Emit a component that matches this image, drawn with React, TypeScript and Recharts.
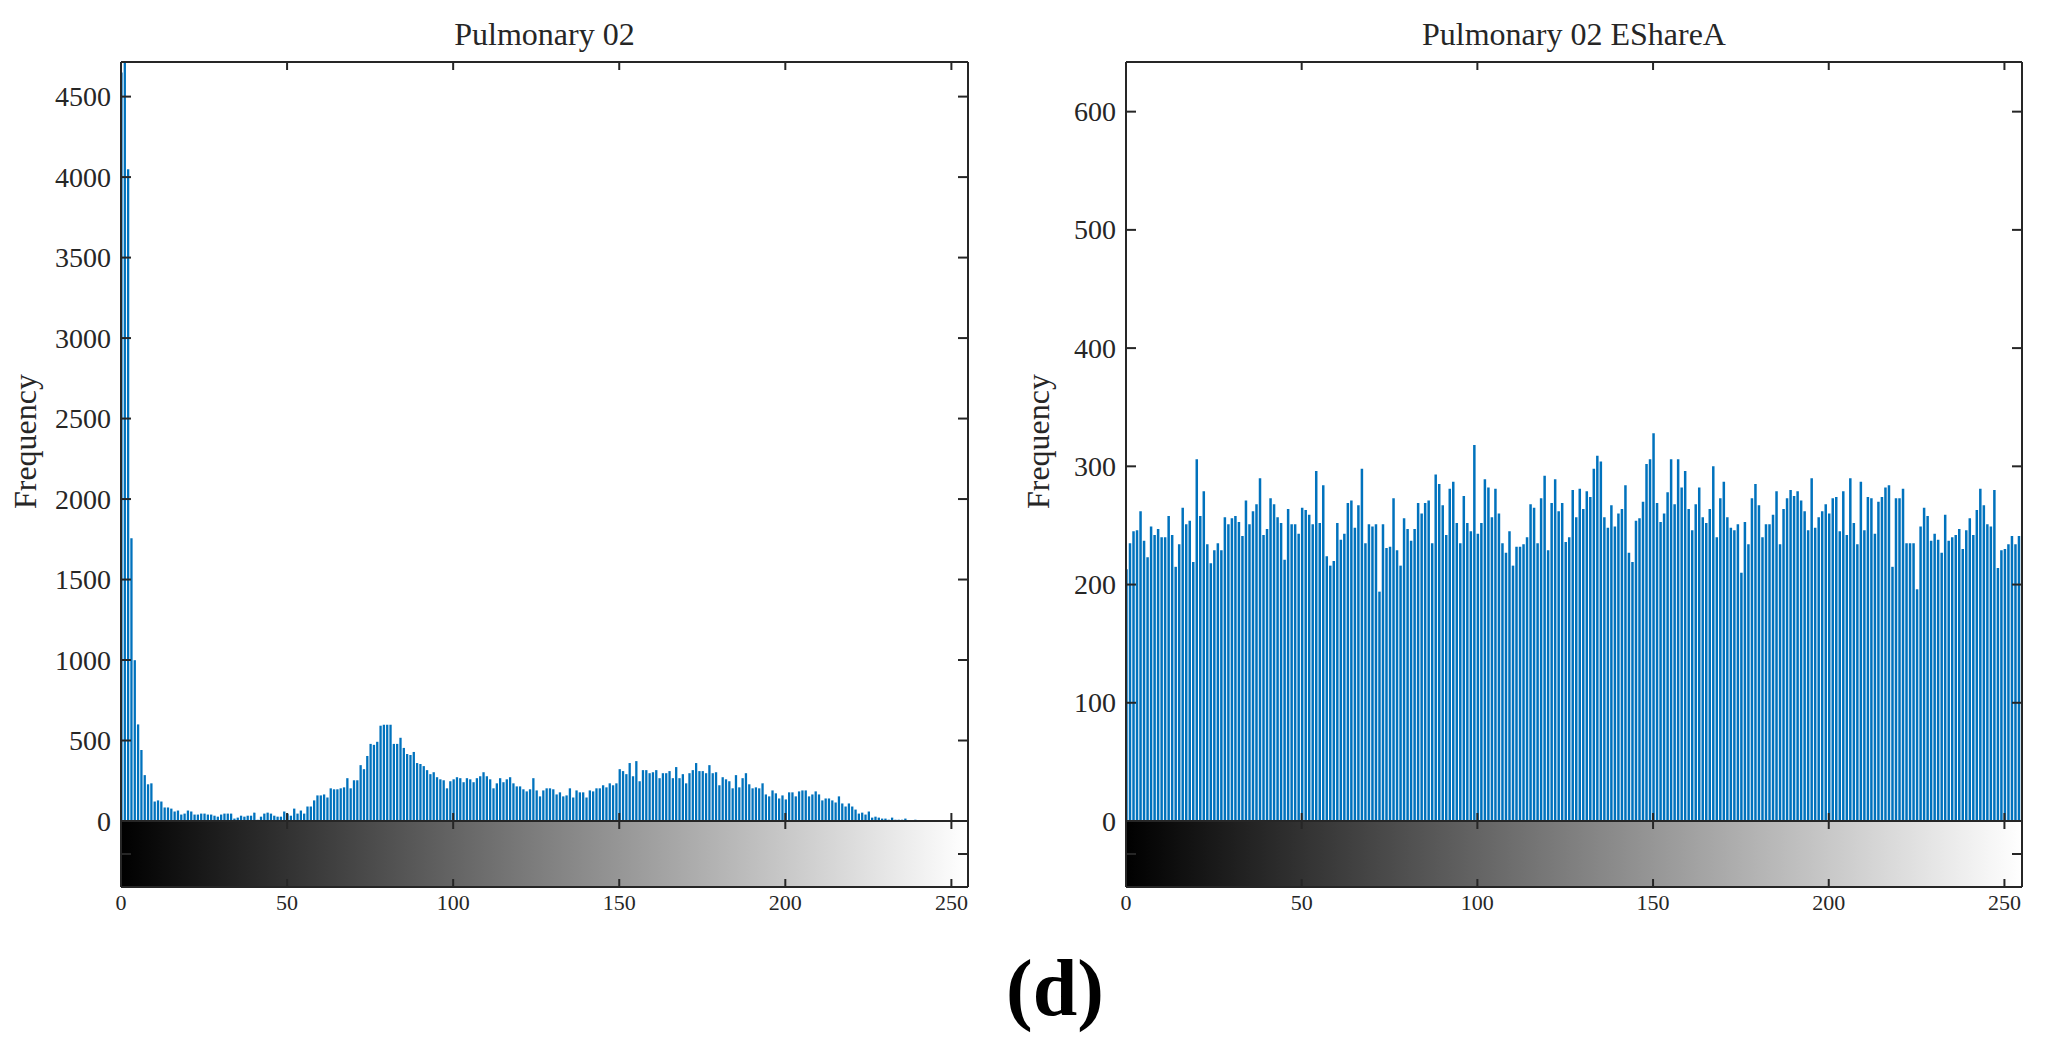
import React from 'react';
import { BarChart, Bar, XAxis, YAxis, ReferenceArea, Label } from 'recharts';

// histogram bins = gray levels of an 8-bit image
const grayLevels = Array.from({ length: 256 }, (_, i) => i);

const pulmonaryCounts = [
  4650, 4715, 4049, 1756, 999, 600, 441, 285, 228, 234, 121, 128, 121, 84, 84, 77,
  59, 65, 40, 46, 65, 59, 40, 40, 46, 46, 40, 40, 33, 27, 40, 46,
  46, 46, 15, 21, 33, 27, 33, 33, 52, 8, 27, 46, 52, 46, 33, 27,
  27, 59, 45, 33, 77, 46, 65, 46, 90, 90, 128, 159, 159, 165, 146, 203,
  197, 197, 203, 209, 266, 203, 253, 253, 347, 322, 404, 479, 473, 492, 592, 598,
  598, 598, 479, 479, 517, 454, 416, 410, 429, 360, 354, 341, 316, 291, 303, 272,
  259, 253, 203, 247, 259, 272, 266, 241, 266, 259, 241, 266, 278, 303, 278, 259,
  203, 234, 266, 241, 259, 272, 234, 215, 215, 197, 184, 197, 266, 190, 153, 190,
  203, 203, 197, 165, 178, 153, 159, 203, 146, 190, 178, 178, 146, 190, 184, 203,
  203, 222, 209, 234, 222, 234, 322, 310, 291, 360, 278, 372, 247, 316, 316, 297,
  303, 316, 266, 297, 297, 310, 266, 335, 266, 291, 234, 297, 316, 360, 310, 310,
  297, 347, 297, 303, 222, 272, 259, 247, 203, 285, 209, 266, 297, 228, 203, 209,
  203, 234, 165, 153, 190, 172, 140, 159, 134, 178, 178, 153, 184, 190, 190, 153,
  165, 184, 165, 128, 140, 140, 128, 115, 153, 109, 90, 109, 90, 71, 46, 52,
  40, 59, 21, 27, 21, 15, 15, 8, 21, 8, 8, 8, 15, 0, 0, 8,
  0, 0, 0, 0, 0, 0, 0, 0, 0, 0, 0, 0, 0, 0, 0, 0,
];

const eshareCounts = [
  213, 235, 245, 246, 262, 237, 223, 249, 242, 247, 240, 240, 258, 242, 215, 234,
  265, 251, 254, 219, 306, 258, 279, 234, 218, 229, 235, 229, 257, 251, 256, 258,
  253, 241, 271, 251, 262, 268, 290, 242, 247, 273, 268, 257, 252, 221, 264, 251,
  251, 243, 265, 263, 259, 251, 296, 252, 284, 224, 216, 220, 252, 238, 243, 269,
  271, 248, 267, 298, 235, 251, 249, 251, 194, 251, 231, 232, 273, 229, 216, 256,
  247, 237, 247, 269, 260, 269, 271, 235, 293, 285, 267, 242, 281, 287, 252, 235,
  275, 252, 245, 318, 243, 252, 289, 282, 257, 281, 260, 235, 227, 245, 216, 232,
  232, 234, 240, 268, 265, 235, 273, 292, 229, 269, 289, 262, 269, 236, 240, 280,
  257, 281, 264, 279, 274, 298, 309, 304, 257, 248, 267, 249, 260, 264, 284, 227,
  219, 254, 256, 270, 302, 306, 328, 269, 253, 260, 278, 306, 268, 306, 282, 296,
  264, 246, 268, 282, 257, 252, 264, 300, 240, 273, 287, 257, 248, 246, 251, 210,
  253, 234, 273, 285, 267, 240, 251, 251, 259, 279, 234, 264, 273, 280, 275, 279,
  271, 262, 246, 290, 248, 257, 262, 268, 260, 273, 274, 245, 279, 242, 290, 252,
  234, 287, 246, 274, 273, 243, 270, 274, 282, 284, 215, 273, 273, 281, 235, 235,
  235, 196, 249, 265, 258, 237, 243, 238, 227, 259, 237, 240, 242, 247, 230, 246,
  256, 242, 263, 281, 267, 251, 249, 280, 214, 229, 230, 234, 241, 234, 241, 226,
];

const xTicks = [0, 50, 100, 150, 200, 250];
const pulmonaryYTicks = [0, 500, 1000, 1500, 2000, 2500, 3000, 3500, 4000, 4500];
const eshareYTicks = [0, 100, 200, 300, 400, 500, 600];
const pulmonaryYMax = 4715;
const eshareYMax = 642;

const INK = '#262626';
const BAR_COLOR = '#0072BD';
const SERIF = '"Liberation Serif", "Times New Roman", serif';
const axisLine = { stroke: INK, strokeWidth: 2 };

// MATLAB-style ticks: drawn inward from the box
const LeftTick = ({ x, y, payload, showLabel }: any) => (
  <g>
    <line x1={x} y1={y} x2={x + 10} y2={y} stroke={INK} strokeWidth={2} />
    {showLabel && (
      <text x={x - 10} y={y} dy="0.34em" textAnchor="end" fontSize={28} fontFamily={SERIF} fill={INK}>
        {payload.value}
      </text>
    )}
  </g>
);

const RightTick = ({ x, y }: any) => (
  <line x1={x} y1={y} x2={x - 10} y2={y} stroke={INK} strokeWidth={2} />
);

const TopTick = ({ x, y }: any) => (
  <line x1={x} y1={y} x2={x} y2={y + 8} stroke={INK} strokeWidth={2} />
);

const BottomTick = ({ x, y, payload, showLabel }: any) => (
  <g>
    <line x1={x} y1={y} x2={x} y2={y - 8} stroke={INK} strokeWidth={2} />
    {showLabel && (
      <text x={x} y={y + 23} textAnchor="middle" fontSize={22} fontFamily={SERIF} fill={INK}>
        {payload.value}
      </text>
    )}
  </g>
);

interface PanelProps {
  id: string;
  title: string;
  counts: number[];
  yMax: number;
  yTicks: number[];
  plotLeft: number;
  plotRight: number;
  barSize: number;
  labelOffset: number;
}

const HistPanel = ({ id, title, counts, yMax, yTicks, plotLeft, plotRight, barSize, labelOffset }: PanelProps) => {
  const chartLeft = plotLeft - 120;
  const chartWidth = plotRight - plotLeft + 140;
  const data = grayLevels.map((level, i) => ({ level, count: counts[i] }));

  return (
    <>
      <div style={{ position: 'absolute', left: chartLeft, top: 0 }}>
        <BarChart width={chartWidth} height={851} data={data} margin={{ top: 52, right: 10, bottom: 20, left: 10 }}>
          <Bar dataKey="count" xAxisId="b" yAxisId="l" fill={BAR_COLOR} barSize={barSize} isAnimationActive={false} />
          <XAxis
            xAxisId="b" dataKey="level" type="number" domain={[0, 255]} ticks={xTicks} interval={0}
            allowDataOverflow height={10} tickSize={0} tickMargin={0} tickLine={false} axisLine={axisLine}
            tick={(p: any) => <BottomTick {...p} />}
          />
          <XAxis
            xAxisId="t" orientation="top" type="number" domain={[0, 255]} ticks={xTicks} interval={0}
            allowDataOverflow height={10} tickSize={0} tickMargin={0} tickLine={false} axisLine={axisLine}
            tick={(p: any) => <TopTick {...p} />}
          >
            <Label value={title} position="top" offset={7} fontSize={32} fontFamily={SERIF} fill={INK} />
          </XAxis>
          <YAxis
            yAxisId="l" type="number" domain={[0, yMax]} ticks={yTicks} interval={0}
            allowDataOverflow width={110} tickSize={0} tickMargin={0} tickLine={false} axisLine={axisLine}
            tick={(p: any) => <LeftTick {...p} showLabel />}
          >
            <Label
              value="Frequency" angle={-90} position="insideLeft" offset={labelOffset}
              fontSize={32} fontFamily={SERIF} fill={INK} style={{ textAnchor: 'middle' }}
            />
          </YAxis>
          <YAxis
            yAxisId="r" orientation="right" type="number" domain={[0, yMax]} ticks={yTicks} interval={0}
            allowDataOverflow width={10} tickSize={0} tickMargin={0} tickLine={false} axisLine={axisLine}
            tick={(p: any) => <RightTick {...p} />}
          />
        </BarChart>
      </div>

      {/* gray ramp under the histogram */}
      <div style={{ position: 'absolute', left: chartLeft, top: 811 }}>
        <BarChart width={chartWidth} height={120} data={data} margin={{ top: 0, right: 10, bottom: 10, left: 10 }}>
          <defs>
            <linearGradient id={`ramp-${id}`} x1="0" y1="0" x2="1" y2="0">
              <stop offset="0%" stopColor="#000000" />
              <stop offset="100%" stopColor="#ffffff" />
            </linearGradient>
          </defs>
          <ReferenceArea
            xAxisId="b" yAxisId="l" x1={0} x2={255} y1={0} y2={1}
            fill={`url(#ramp-${id})`} fillOpacity={1} stroke="none"
          />
          <XAxis
            xAxisId="b" dataKey="level" type="number" domain={[0, 255]} ticks={xTicks} interval={0}
            allowDataOverflow height={34} tickSize={0} tickMargin={0} tickLine={false} axisLine={axisLine}
            tick={(p: any) => <BottomTick {...p} showLabel />}
          />
          <XAxis
            xAxisId="t" orientation="top" type="number" domain={[0, 255]} ticks={xTicks} interval={0}
            allowDataOverflow height={10} tickSize={0} tickMargin={0} tickLine={false} axisLine={axisLine}
            tick={(p: any) => <TopTick {...p} />}
          />
          <YAxis
            yAxisId="l" type="number" domain={[0, 1]} ticks={[0.5]} interval={0}
            allowDataOverflow width={110} tickSize={0} tickMargin={0} tickLine={false} axisLine={axisLine}
            tick={(p: any) => <LeftTick {...p} />}
          />
          <YAxis
            yAxisId="r" orientation="right" type="number" domain={[0, 1]} ticks={[0.5]} interval={0}
            allowDataOverflow width={10} tickSize={0} tickMargin={0} tickLine={false} axisLine={axisLine}
            tick={(p: any) => <RightTick {...p} />}
          />
        </BarChart>
      </div>
    </>
  );
};

export default function App() {
  return (
    <div style={{ position: 'absolute', left: 0, top: 0, width: 2057, height: 1055, background: '#ffffff' }}>
      <HistPanel
        id="orig" title="Pulmonary 02" counts={pulmonaryCounts} yMax={pulmonaryYMax} yTicks={pulmonaryYTicks}
        plotLeft={121} plotRight={968} barSize={2.3} labelOffset={14}
      />
      <HistPanel
        id="eshare" title="Pulmonary 02 EShareA" counts={eshareCounts} yMax={eshareYMax} yTicks={eshareYTicks}
        plotLeft={1126} plotRight={2022} barSize={2.5} labelOffset={22}
      />
      <svg width={2057} height={1055} style={{ position: 'absolute', left: 0, top: 0, pointerEvents: 'none' }}>
        <text x={1055} y={1015} textAnchor="middle" fontSize={80} fontWeight="bold" fontFamily={SERIF} fill="#000000">
          (d)
        </text>
      </svg>
    </div>
  );
}
